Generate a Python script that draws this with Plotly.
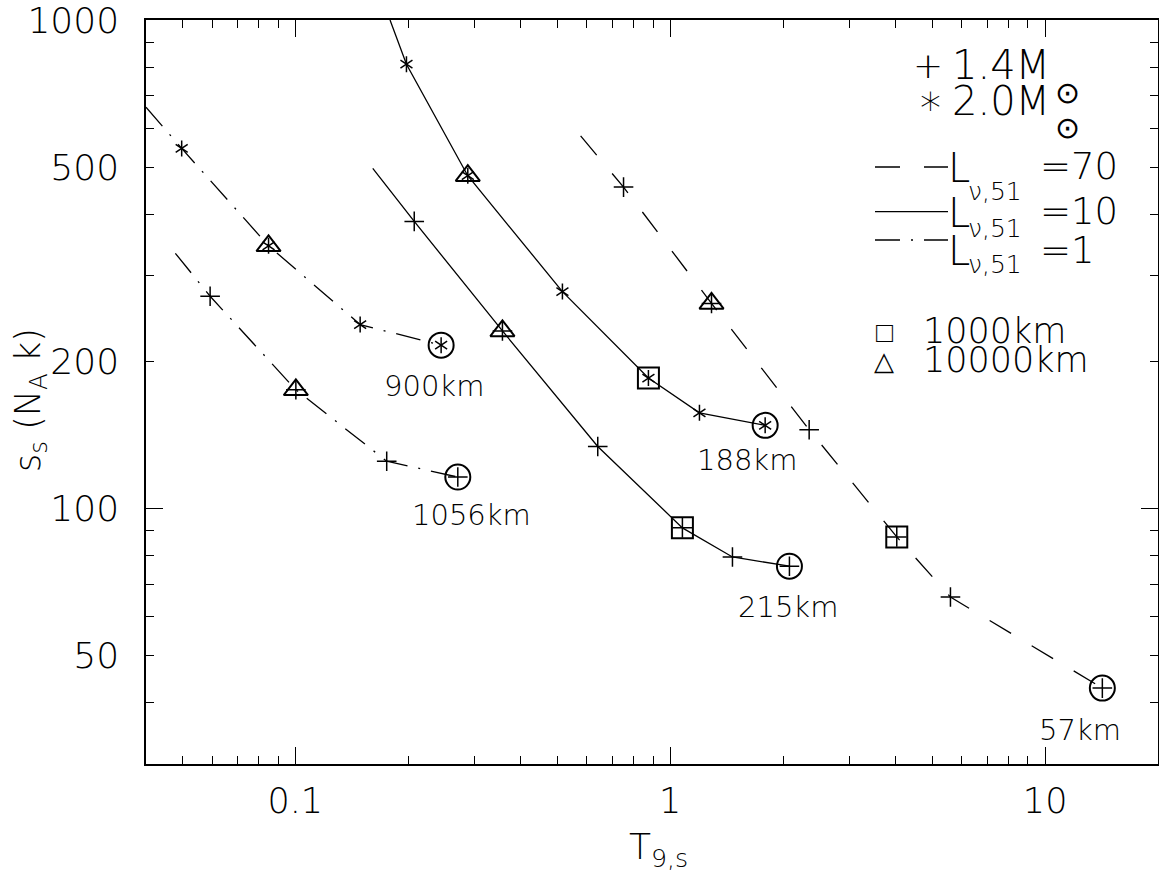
import numpy as np
import plotly.graph_objects as go

# ---------------- data ----------------
# L_nu,51 = 70, 1.4 Msun (dashed)
T_L70_14 = [0.577, 0.751, 1.289, 2.348, 4.021, 5.591, 14.21]
S_L70_14 = [579, 455, 263, 145, 87.5, 65.9, 42.9]
# L_nu,51 = 10, 2.0 Msun (solid, upper)
T_L10_20 = [0.179, 0.198, 0.2886, 0.516, 0.875, 1.197, 1.792]
S_L10_20 = [1000, 812, 480, 278, 185, 157, 148]
# L_nu,51 = 10, 1.4 Msun (solid, lower)
T_L10_14 = [0.161, 0.2077, 0.357, 0.641, 1.078, 1.466, 2.080]
S_L10_14 = [497, 387, 231, 134, 91.3, 79.6, 76.2]
# L_nu,51 = 1, 2.0 Msun (dash-dot, upper)
T_L1_20 = [0.040, 0.0498, 0.0849, 0.149, 0.245]
S_L1_20 = [663, 546, 345, 238, 216]
# L_nu,51 = 1, 1.4 Msun (dash-dot, lower)
T_L1_14 = [0.0479, 0.0593, 0.1004, 0.1754, 0.2714]
S_L1_14 = [333, 272, 175, 125, 116]

# which points carry the symbols (index into the arrays above)
MASS_IDX = {"L70_14": [1, 2, 3, 4, 5, 6], "L10_20": [1, 2, 3, 4, 5, 6],
            "L10_14": [1, 2, 3, 4, 5, 6], "L1_20": [1, 2, 3, 4], "L1_14": [1, 2, 3, 4]}
TRI_IDX = {"L70_14": 2, "L10_20": 2, "L10_14": 2, "L1_20": 2, "L1_14": 2}   # 10000 km
SQ_IDX = {"L70_14": 4, "L10_20": 4, "L10_14": 4}                           # 1000 km
END_LABELS = {"L70_14": "57km", "L10_20": "188km", "L10_14": "215km",
              "L1_20": "900km", "L1_14": "1056km"}
# label positions (T, s)
LABEL_T = {"L70_14": 12.42, "L10_20": 1.598, "L10_14": 2.068, "L1_20": 0.2338, "L1_14": 0.2952}
LABEL_S = {"L70_14": 35.2, "L10_20": 126, "L10_14": 63, "L1_20": 177.8, "L1_14": 96.8}

X_TICKS = [0.1, 1, 10]
X_TICKTEXT = ["0.1", "1", "10"]
Y_TICKS = [50, 100, 200, 500, 1000]
Y_TICKTEXT = ["50", "100", "200", "500", "1000"]
Y_LONG_TICKS = [100, 1000]

DASHED = "25px,24px"
DASHDOT = "25px,11px,2px,11px"
curves = {
    "L70_14": (T_L70_14, S_L70_14, DASHED, "1.4"),
    "L10_20": (T_L10_20, S_L10_20, "solid", "2.0"),
    "L10_14": (T_L10_14, S_L10_14, "solid", "1.4"),
    "L1_20": (T_L1_20, S_L1_20, DASHDOT, "2.0"),
    "L1_14": (T_L1_14, S_L1_14, DASHDOT, "1.4"),
}

INK = "#000"
FONT = "DejaVu Sans"
FW = 200

fig = go.Figure()
for key, (tx, sy, dash, mass) in curves.items():
    fig.add_trace(go.Scatter(x=tx, y=sy, mode="lines",
                             line=dict(color=INK, width=1.3, dash=dash),
                             hoverinfo="skip", showlegend=False))
    mx = [tx[i] for i in MASS_IDX[key]]
    my = [sy[i] for i in MASS_IDX[key]]
    if mass == "1.4":
        fig.add_trace(go.Scatter(x=mx, y=my, mode="markers",
                                 marker=dict(symbol="cross-thin-open", size=14, color=INK,
                                             line=dict(color=INK, width=1.5)),
                                 showlegend=False))
    else:
        for sym in ("y-up-open", "y-down-open"):
            fig.add_trace(go.Scatter(x=mx, y=my, mode="markers",
                                     marker=dict(symbol=sym, size=10, color=INK,
                                                 line=dict(color=INK, width=1.5)),
                                     showlegend=False))
    i = TRI_IDX[key]
    fig.add_trace(go.Scatter(x=[tx[i]], y=[sy[i]], mode="markers",
                             marker=dict(symbol="triangle-up-open", size=21, color=INK,
                                         line=dict(color=INK, width=2)),
                             showlegend=False))
    if key in SQ_IDX:
        i = SQ_IDX[key]
        fig.add_trace(go.Scatter(x=[tx[i]], y=[sy[i]], mode="markers",
                                 marker=dict(symbol="square-open", size=21, color=INK,
                                             line=dict(color=INK, width=2)),
                                 showlegend=False))
    fig.add_trace(go.Scatter(x=[tx[-1]], y=[sy[-1]], mode="markers",
                             marker=dict(symbol="circle-open", size=25, color=INK,
                                         line=dict(color=INK, width=2)),
                             showlegend=False))

# dummy traces so that the overlay axes (mirrored / long ticks) are drawn
fig.add_trace(go.Scatter(x=[None], y=[None], yaxis="y2", showlegend=False))
fig.add_trace(go.Scatter(x=[None], y=[None], yaxis="y3", showlegend=False))
fig.add_trace(go.Scatter(x=[None], y=[None], xaxis="x2", showlegend=False))

# ---------------- layout ----------------
L, R, T, B = 146, 1, 20, 116
W, H = 1159, 880


def px(x):
    return (x - L) / (W - L - R)


def py(y):
    return (H - B - y) / (H - T - B)


def fnt(size):
    return dict(family=FONT, size=size, color=INK, weight=FW)


annotations = []
for key, lab in END_LABELS.items():
    annotations.append(dict(x=np.log10(LABEL_T[key]), y=np.log10(LABEL_S[key]),
                            xref="x", yref="y", text=lab, showarrow=False, font=fnt(29)))


def txt(x, y, s, size, xanchor="center"):
    annotations.append(dict(x=px(x), y=py(y), xref="paper", yref="paper", text=s,
                            showarrow=False, xanchor=xanchor, yanchor="middle",
                            font=fnt(size)))


# legend (masses)
txt(928, 66, "+", 36)
txt(950, 65, "1.4M", 40, "left")
txt(1067, 92, "⊙", 30)
txt(930, 108, "*", 42)
txt(950, 101, "2.0M", 40, "left")
txt(1067, 128, "⊙", 30)
# legend (luminosities): L, subscript, value as separate pieces
for yl, ysub, yv, val in ((168, 191, 166, "=70"), (213, 229, 211, "=10"), (251, 264, 251, "=1")):
    txt(946, yl, "L", 40, "left")
    txt(966, ysub, "ν,51", 25, "left")
    txt(1038, yv, val, 37, "left")
# legend (radii)
txt(884, 333, "□", 28)
txt(921, 331, "1000km", 35, "left")
txt(884, 361, "△", 26)
txt(921, 360, "10000km", 35, "left")

# axis titles
txt(658, 850, "T<sub>9,s</sub>", 36)
annotations.append(dict(x=px(30), y=py(400), xref="paper", yref="paper",
                        text="s<sub>s</sub> (N<sub>A</sub> k)", textangle=-90,
                        showarrow=False, xanchor="center", yanchor="middle",
                        font=fnt(35)))

shapes = []
for yy, dash in ((167, DASHED), (211.7, "solid"), (240, DASHDOT)):
    shapes.append(dict(type="line", xref="paper", yref="paper",
                       x0=px(875), x1=px(948), y0=py(yy), y1=py(yy),
                       line=dict(color=INK, width=1.3, dash=dash)))

XR = [np.log10(0.04), np.log10(20)]
YR = [np.log10(30), np.log10(1000)]
minor = dict(ticks="inside", ticklen=8, tickwidth=1.3, tickcolor=INK, dtick="D1", showgrid=False)

fig.update_layout(
    width=W, height=H,
    margin=dict(l=L, r=R, t=T, b=B, autoexpand=False),
    paper_bgcolor="white", plot_bgcolor="white",
    showlegend=False,
    annotations=annotations, shapes=shapes,
    xaxis=dict(type="log", range=XR,
               tickmode="array", tickvals=X_TICKS, ticktext=X_TICKTEXT,
               ticks="inside", ticklen=17, tickwidth=1.3, tickcolor=INK,
               showline=True, linecolor=INK, linewidth=1.5,
               showgrid=False, zeroline=False, ticklabelstandoff=5,
               ticklabeloverflow="allow",
               tickfont=fnt(35), minor=minor),
    xaxis2=dict(type="log", range=XR, overlaying="x", side="top", anchor="y",
                tickmode="array", tickvals=X_TICKS, showticklabels=False,
                ticks="inside", ticklen=17, tickwidth=1.3, tickcolor=INK,
                showline=True, linecolor=INK, linewidth=1.5,
                showgrid=False, zeroline=False, minor=minor),
    yaxis=dict(type="log", range=YR,
               tickmode="array", tickvals=Y_TICKS, ticktext=Y_TICKTEXT,
               ticks="inside", ticklen=8, tickwidth=1.3, tickcolor=INK,
               showline=True, linecolor=INK, linewidth=1.5,
               showgrid=False, zeroline=False, ticklabelstandoff=18,
               ticklabeloverflow="allow",
               tickfont=fnt(36), minor=minor),
    yaxis2=dict(type="log", range=YR, overlaying="y", side="left",
                tickmode="array", tickvals=Y_LONG_TICKS, showticklabels=False,
                ticks="inside", ticklen=17, tickwidth=1.3, tickcolor=INK,
                showline=False, showgrid=False, zeroline=False),
    yaxis3=dict(type="log", range=YR, overlaying="y", side="right", anchor="x",
                tickmode="array", tickvals=Y_LONG_TICKS, showticklabels=False,
                ticks="inside", ticklen=17, tickwidth=1.3, tickcolor=INK,
                showline=True, linecolor=INK, linewidth=1.5,
                showgrid=False, zeroline=False, minor=minor),
)

fig.write_html("out.html", config={"displayModeBar": False},
               post_script="document.body.style.margin='0';")
